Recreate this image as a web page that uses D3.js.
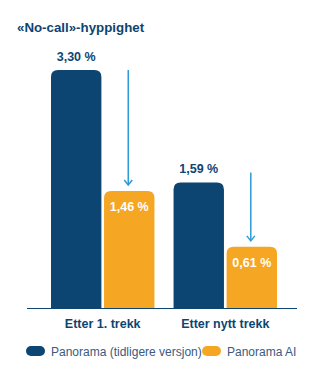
<!DOCTYPE html>
<html><head><meta charset="utf-8">
<script src="https://cdn.jsdelivr.net/npm/d3@7"></script>
<style>html,body{margin:0;padding:0;background:#fff;}svg{display:block;}</style>
</head><body>
<svg id="c" width="321" height="383"></svg>
<script>
const title = "«No-call»-hyppighet";
const categories = ["Etter 1. trekk", "Etter nytt trekk"];
const seriesNames = ["Panorama (tidligere versjon)", "Panorama AI"];
const previousValues = [3.30, 1.59];
const aiValues = [1.46, 0.61];
const valueLabels = [["3,30 %", "1,46 %"], ["1,59 %", "0,61 %"]];
const arrowLift = [0, 10];

const DARK = "#0d4572", ORANGE = "#f5a623", ARROW = "#2e9bd6";
const FONT = "'Helvetica Neue', Arial, 'Liberation Sans', sans-serif";
const svg = d3.select("#c");

const baseY = 308;
const y = d3.scaleLinear().domain([-0.32, 3.30]).range([baseY, 70]);
const x0 = d3.scaleBand().domain(categories).range([51, 277]).paddingInner(0.156).paddingOuter(0);
const x1 = d3.scaleBand().domain(seriesNames).range([0, x0.bandwidth()]).paddingInner(0.05);
const color = d3.scaleOrdinal().domain(seriesNames).range([DARK, ORANGE]);

svg.append("text").attr("x", 17).attr("y", 32).attr("fill", DARK)
  .attr("font-family", FONT).attr("font-weight", 700).attr("font-size", 13.3).text(title);

function topRounded(x, yTop, w, h, r) {
  return `M${x},${yTop + h}V${yTop + r}Q${x},${yTop} ${x + r},${yTop}H${x + w - r}Q${x + w},${yTop} ${x + w},${yTop + r}V${yTop + h}Z`;
}

const data = categories.map((c, i) => ({cat: c, vals: [previousValues[i], aiValues[i]], labels: valueLabels[i], i}));

const g = svg.selectAll("g.grp").data(data).join("g").attr("class", "grp")
  .attr("transform", d => `translate(${x0(d.cat)},0)`);

g.each(function(d) {
  const gg = d3.select(this);
  d.vals.forEach((v, k) => {
    const bx = x1(seriesNames[k]), bw = x1.bandwidth(), top = y(v);
    gg.append("path").attr("d", topRounded(bx, top, bw, baseY - top, 7)).attr("fill", color(seriesNames[k]));
    gg.append("text").attr("x", bx + bw / 2).attr("y", k === 0 ? top - 9 : top + 20)
      .attr("text-anchor", "middle").attr("fill", k === 0 ? DARK : "#fff")
      .attr("font-family", FONT).attr("font-weight", 700).attr("font-size", 12.5).text(d.labels[k]);
  });
  const ax = x1(seriesNames[1]) + x1.bandwidth() / 2 - 1;
  const ay0 = y(d.vals[0]) - arrowLift[d.i];
  const ay1 = y(d.vals[1]) - 6;
  gg.append("line").attr("x1", ax).attr("x2", ax).attr("y1", ay0).attr("y2", ay1)
    .attr("stroke", ARROW).attr("stroke-width", 1.5);
  gg.append("path").attr("d", `M${ax - 4},${ay1 - 5}L${ax},${ay1}L${ax + 4},${ay1 - 5}`)
    .attr("fill", "none").attr("stroke", ARROW).attr("stroke-width", 1.5);
});

svg.append("line").attr("x1", 27).attr("x2", 297).attr("y1", baseY + 0.5).attr("y2", baseY + 0.5)
  .attr("stroke", DARK).attr("stroke-width", 1);

svg.selectAll("text.cat").data(categories).join("text").attr("class", "cat")
  .attr("x", d => x0(d) + x0.bandwidth() / 2).attr("y", 328).attr("text-anchor", "middle")
  .attr("fill", DARK).attr("font-family", FONT).attr("font-weight", 700).attr("font-size", 12.5).text(d => d);

const legX = [26, 202];
const lg = svg.selectAll("g.leg").data(seriesNames).join("g").attr("class", "leg")
  .attr("transform", (d, i) => `translate(${legX[i]},351)`);
lg.append("rect").attr("x", 0).attr("y", -5).attr("width", 19).attr("height", 10).attr("rx", 5)
  .attr("fill", d => color(d));
lg.append("text").attr("x", 25).attr("y", 4.5).attr("fill", "#3a5a80")
  .attr("font-family", FONT).attr("font-size", 12).text(d => d);
</script>
</body></html>
